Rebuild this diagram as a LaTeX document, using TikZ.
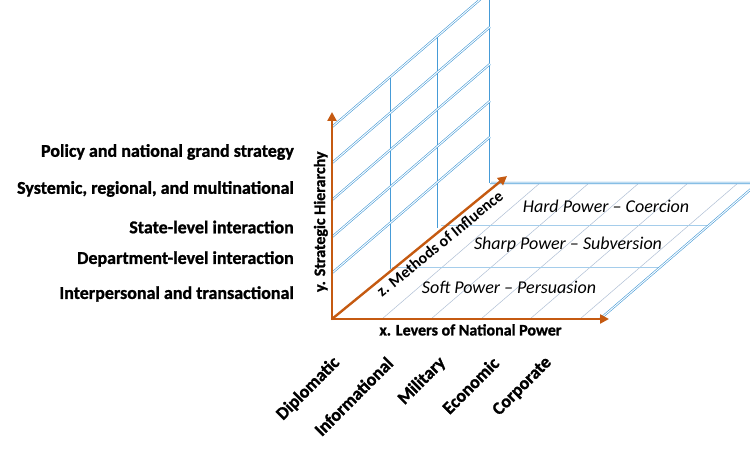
\documentclass[tikz,border=0pt]{standalone}
\usepackage{fontspec}
\setmainfont{Carlito}
\usetikzlibrary{arrows.meta,calc}

\definecolor{axisorange}{RGB}{197,90,17}
\definecolor{wallblue}{RGB}{70,155,215}
\definecolor{gridblue}{RGB}{165,205,235}
\definecolor{diaggray}{RGB}{175,190,212}

\newcommand{\heavy}{\bfseries\addfontfeature{FakeBold=1.2}}

\tikzset{
  axis/.style={axisorange, line width=2.4pt, line cap=round, -{Triangle[length=9pt,width=9pt]}},
  wall/.style={draw=wallblue, double=white, double distance=1pt, line width=0.6pt},
  floorline/.style={gridblue, line width=0.9pt},
  diagline/.style={diaggray, line width=0.5pt},
  level/.style={anchor=east, inner sep=0pt, font=\fontsize{18}{21}\selectfont\heavy},
  lever/.style={anchor=east, inner sep=0pt, rotate=45, font=\fontsize{18}{21}\selectfont\heavy},
  axislabel/.style={inner sep=0pt, text=black, font=\fontsize{16}{19}\selectfont\heavy},
  method/.style={font=\fontsize{18}{21}\selectfont\itshape},
}

\begin{document}
\begin{tikzpicture}[x=1pt,y=1pt]
  \useasboundingbox (0,0) rectangle (750,455);
  \coordinate (O) at (332,136);
  \coordinate (xt) at (609,136);
  \coordinate (yt) at (332,343);
  \coordinate (zt) at (507,279);
  \coordinate (A) at (600,136);
  \coordinate (B) at (758,272);
  \coordinate (C) at (490,272);

  % floor
  \foreach \d in {50,99,149,198,248}
    \draw[diagline] ([xshift=\d pt]O) -- ([xshift=\d pt]C);
  \foreach \h in {52,94}
    \draw[floorline] ($(O)!\h/136!(C)$) -- ($(A)!\h/136!(B)$);
  \draw[wall] (C) -- (B) -- (A);

  % wall
  \foreach \f in {0,0.367,0.671,1}
    \draw[wall] ($(O)!\f!(C)$) -- ++(0,192);
  \foreach \h in {46,82,119,156,192}
    \draw[wall] ([yshift=\h pt]O) -- ([yshift=\h pt]C);

  \node[method] (hard) at (606,249) {Hard Power \textendash{} Coercion};
  \node[method] (sharp) at (568,210) {Sharp Power \textendash{} Subversion};
  \node[method] (soft) at (509,168) {Soft Power \textendash{} Persuasion};

  % axes
  \draw[axis] (O) -- (zt) node[pos=0.58, sloped, below=3pt, axislabel, font=\fontsize{16}{19}\selectfont\bfseries] {z. Methods of Influence};
  \draw[axis] (O) -- (xt) node[midway, below=4pt, axislabel] {x. Levers of National Power};
  \draw[axis] (O) -- (yt) node[pos=0.47, sloped, above=3pt, axislabel] {y. Strategic Hierarchy};

  \node[level] (policy) at (294,303) {Policy and national grand strategy};
  \node[level] (system) at (294,266) {Systemic, regional, and multinational};
  \node[level] (state) at (294,228) {State-level interaction};
  \node[level] (dept) at (294,196) {Department-level interaction};
  \node[level] (person) at (294,161) {Interpersonal and transactional};

  \foreach \t [count=\i from 0] in {Diplomatic,Informational,Military,Economic,Corporate}
    \node[lever] (lever\i) at (337+53*\i,95) {\t};
\end{tikzpicture}
\end{document}
